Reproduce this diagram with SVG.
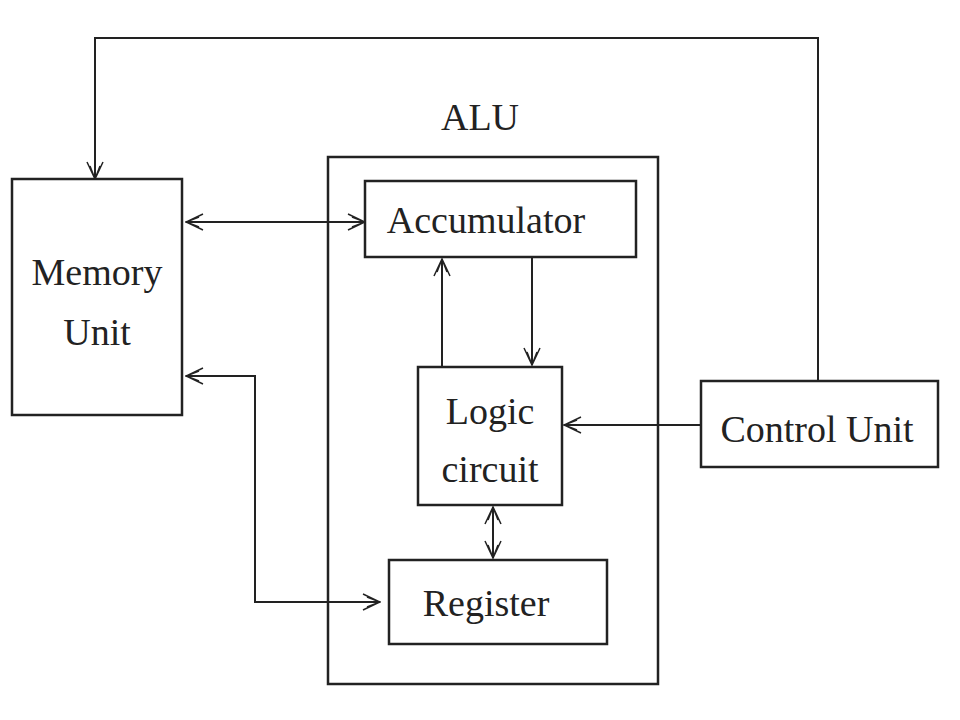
<svg xmlns="http://www.w3.org/2000/svg" width="960" height="720" viewBox="0 0 960 720">
<style>
.b{fill:#fff;stroke:#222;stroke-width:2.5}
.c{fill:none;stroke:#222;stroke-width:2}
text{font-family:"Liberation Serif",serif;font-size:38px;fill:#222;text-anchor:middle}
</style>
<defs>
<marker id="a" viewBox="0 0 20 20" refX="19" refY="10" markerWidth="20" markerHeight="20" markerUnits="userSpaceOnUse" orient="auto-start-reverse">
<path d="M2,2 L19,10 L2,18 M6,5 L19,10 L6,15" fill="none" stroke="#222" stroke-width="1.5"/>
</marker>
</defs>
<rect width="960" height="720" fill="#fff"/>
<g id="alu"><rect class="b" x="328" y="157" width="330" height="527"/><text x="480" y="130">ALU</text></g>
<g id="memory"><rect class="b" x="12" y="179" width="170" height="236"/><text x="97" y="285">Memory</text><text x="97" y="345">Unit</text></g>
<g id="accumulator"><rect class="b" x="365" y="181" width="271" height="76"/><text x="486" y="233">Accumulator</text></g>
<g id="logic"><rect class="b" x="418" y="367" width="144" height="138"/><text x="490" y="424">Logic</text><text x="490" y="482">circuit</text></g>
<g id="register"><rect class="b" x="389" y="560" width="218" height="84"/><text x="486" y="616">Register</text></g>
<g id="control"><rect class="b" x="701" y="381" width="237" height="86"/><text x="817" y="442">Control Unit</text></g>
<g id="connectors">
<path class="c" d="M818,381 V38 H95 V179" marker-end="url(#a)"/>
<path class="c" d="M186,222 H365" marker-start="url(#a)" marker-end="url(#a)"/>
<path class="c" d="M442,367 V259" marker-end="url(#a)"/>
<path class="c" d="M532,257 V365" marker-end="url(#a)"/>
<path class="c" d="M701,425 H564" marker-end="url(#a)"/>
<path class="c" d="M493,507 V558" marker-start="url(#a)" marker-end="url(#a)"/>
<path class="c" d="M186,376 H255 V602 H380" marker-start="url(#a)" marker-end="url(#a)"/>
</g>
</svg>
